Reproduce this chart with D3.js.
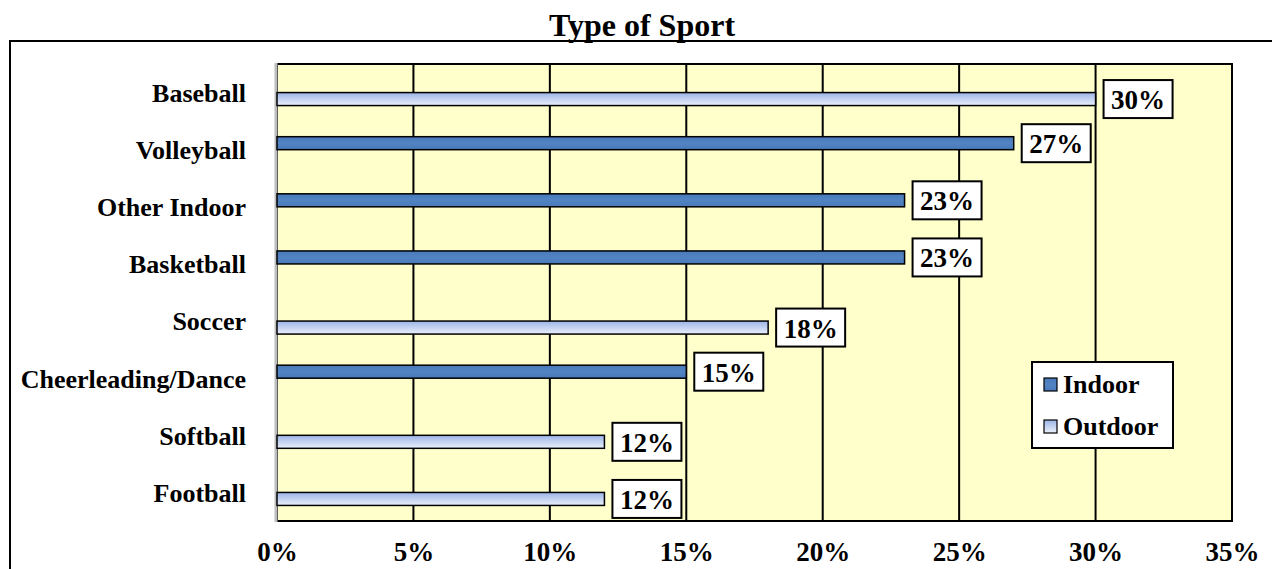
<!DOCTYPE html>
<html>
<head>
<meta charset="utf-8">
<script src="https://cdn.jsdelivr.net/npm/d3@7"></script>
<style>
body { margin: 0; background: #fff; }
text { font-family: "Liberation Serif", "Times New Roman", serif; font-weight: bold; fill: #000; }
</style>
</head>
<body>
<div id="chart"></div>
<script>
// data
const sports = ["Baseball", "Volleyball", "Other Indoor", "Basketball", "Soccer", "Cheerleading/Dance", "Softball", "Football"];
const sportType = ["Outdoor", "Indoor", "Indoor", "Indoor", "Outdoor", "Indoor", "Outdoor", "Outdoor"];
const percent = [30, 27, 23, 23, 18, 15, 12, 12];
const seriesNames = ["Indoor", "Outdoor"];
const xTicks = [0, 5, 10, 15, 20, 25, 30, 35];

const w = 1272, h = 569;
const plot = {left: 277, right: 1232, top: 64, bottom: 521};

const svg = d3.select("#chart").append("svg")
  .attr("width", w).attr("height", h);

// gradients for the bars
const defs = svg.append("defs");
const gIn = defs.append("linearGradient").attr("id", "gIndoor")
  .attr("x1", 0).attr("y1", 0).attr("x2", 0).attr("y2", 1);
gIn.append("stop").attr("offset", "0%").attr("stop-color", "#4879b8");
gIn.append("stop").attr("offset", "50%").attr("stop-color", "#5283c2");
gIn.append("stop").attr("offset", "100%").attr("stop-color", "#4879b8");
const gOut = defs.append("linearGradient").attr("id", "gOutdoor")
  .attr("x1", 0).attr("y1", 0).attr("x2", 0).attr("y2", 1);
gOut.append("stop").attr("offset", "0%").attr("stop-color", "#9cb4e6");
gOut.append("stop").attr("offset", "100%").attr("stop-color", "#eaf0fb");
const fills = {Indoor: "url(#gIndoor)", Outdoor: "url(#gOutdoor)"};

// outer chart frame
svg.append("rect")
  .attr("x", 10).attr("y", 41).attr("width", 1400).attr("height", 600)
  .attr("fill", "none").attr("stroke", "#000").attr("stroke-width", 2);

// title
svg.append("text")
  .attr("x", 642).attr("y", 36)
  .attr("text-anchor", "middle")
  .style("font-size", "32px")
  .text("Type of Sport");

const x = d3.scaleLinear().domain([0, 35]).range([plot.left, plot.right]);
const y = d3.scaleBand().domain(sports).range([plot.top, plot.bottom]);
const sub = d3.scaleBand().domain(seriesNames)
  .range([y.bandwidth() / 2 - 13, y.bandwidth() / 2 + 13]);

// plot background
svg.append("rect")
  .attr("x", plot.left).attr("y", plot.top)
  .attr("width", plot.right - plot.left).attr("height", plot.bottom - plot.top)
  .attr("fill", "#ffffcc");

// vertical gridlines
svg.append("g").selectAll("line")
  .data(xTicks.slice(1, -1))
  .enter().append("line")
  .attr("x1", d => x(d)).attr("x2", d => x(d))
  .attr("y1", plot.top).attr("y2", plot.bottom)
  .attr("stroke", "#000").attr("stroke-width", 2);

// plot frame
svg.append("rect")
  .attr("x", plot.left).attr("y", plot.top)
  .attr("width", plot.right - plot.left).attr("height", plot.bottom - plot.top)
  .attr("fill", "none").attr("stroke", "#000").attr("stroke-width", 2);
// grey value axis line on the left
svg.append("line")
  .attr("x1", plot.left - 1).attr("x2", plot.left - 1)
  .attr("y1", plot.top - 1).attr("y2", plot.bottom + 1)
  .attr("stroke", "#bdbdbd").attr("stroke-width", 3);

// bars
svg.append("g").selectAll("rect")
  .data(sports)
  .enter().append("rect")
  .attr("x", x(0))
  .attr("y", (d, i) => y(d) + sub(sportType[i]))
  .attr("width", (d, i) => x(percent[i]) - x(0))
  .attr("height", sub.bandwidth())
  .attr("fill", (d, i) => fills[sportType[i]])
  .attr("stroke", "#000").attr("stroke-width", 1.5);

// value labels
const lbl = svg.append("g").selectAll("g")
  .data(sports)
  .enter().append("g")
  .attr("transform", (d, i) => "translate(" + (x(percent[i]) + 8) + "," + (y(d) + sub(sportType[i]) + sub.bandwidth() / 2) + ")");
lbl.append("rect")
  .attr("x", 0).attr("y", -19).attr("width", 69).attr("height", 38)
  .attr("fill", "#fff").attr("stroke", "#000").attr("stroke-width", 2);
lbl.append("text")
  .attr("x", 34.5).attr("y", 10)
  .attr("text-anchor", "middle")
  .style("font-size", "27px")
  .text((d, i) => percent[i] + "%");

// category labels
const yAxis = d3.axisLeft(y).tickSize(0).tickPadding(31);
svg.append("g")
  .attr("transform", "translate(" + plot.left + ",0)")
  .call(yAxis)
  .call(g => g.select(".domain").remove())
  .selectAll("text")
  .attr("dy", "0.36em")
  .style("font-size", "26px")
  .style("font-family", "'Liberation Serif', serif");

// x axis tick labels
const xAxis = d3.axisBottom(x).tickValues(xTicks).tickFormat(d => d + "%").tickSize(0).tickPadding(21);
svg.append("g")
  .attr("transform", "translate(0," + plot.bottom + ")")
  .call(xAxis)
  .call(g => g.select(".domain").remove())
  .selectAll("text")
  .style("font-size", "27px")
  .style("font-family", "'Liberation Serif', serif");

// legend
const leg = svg.append("g").attr("transform", "translate(1032,362)");
leg.append("rect")
  .attr("width", 141).attr("height", 86)
  .attr("fill", "#fff").attr("stroke", "#000").attr("stroke-width", 2);
const items = leg.selectAll("g.item")
  .data(seriesNames)
  .enter().append("g")
  .attr("transform", (d, i) => "translate(12," + (22 + i * 42) + ")");
items.append("rect")
  .attr("x", 0).attr("y", -6).attr("width", 13).attr("height", 13)
  .attr("fill", d => fills[d]).attr("stroke", "#000").attr("stroke-width", 1.2);
items.append("text")
  .attr("x", 19).attr("y", 9)
  .style("font-size", "26px")
  .text(d => d);
</script>
</body>
</html>
